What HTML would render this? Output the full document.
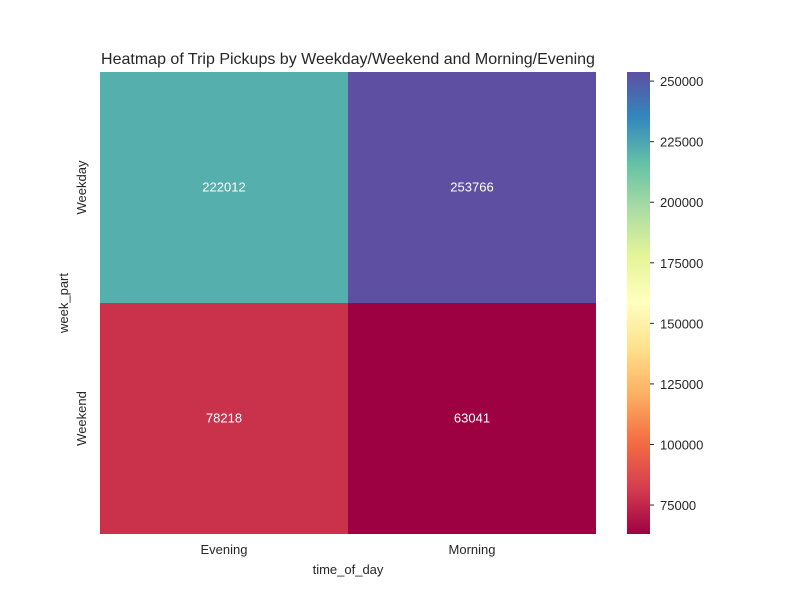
<!DOCTYPE html>
<html><head><meta charset="utf-8"><style>
body{margin:0;background:#fff;font-family:"Liberation Sans",sans-serif;}
svg text{font-family:"Liberation Sans",sans-serif;fill:#262626;}
</style></head><body>
<svg id="c" width="800" height="600" xmlns="http://www.w3.org/2000/svg">
<rect width="800" height="600" fill="#fff"/>
<text x="348" y="64" font-size="16" text-anchor="middle">Heatmap of Trip Pickups by Weekday/Weekend and Morning/Evening</text>
<text x="348" y="574" font-size="13" text-anchor="middle">time_of_day</text>
<text x="0" y="0" font-size="13" text-anchor="middle" transform="translate(68,303) rotate(-90)">week_part</text>
<g id="cells"></g>
<g id="cbar"></g>
</svg>
<script>
const rows = ["Weekday", "Weekend"];
const cols = ["Evening", "Morning"];
const values = [[222012, 253766], [78218, 63041]];
const cbTicks = [75000, 100000, 125000, 150000, 175000, 200000, 225000, 250000];

const stops = ["#9e0142","#d53e4f","#f46d43","#fdae61","#fee08b","#ffffbf","#e6f598","#abdda4","#66c2a5","#3288bd","#5e4fa2"];
const flat = values.flat();
const vmin = Math.min(...flat), vmax = Math.max(...flat);
function hex(h){return [1,3,5].map(i=>parseInt(h.substr(i,2),16));}
function cmap(t){t=Math.max(0,Math.min(1,t));const p=t*(stops.length-1);const i=Math.min(Math.floor(p),stops.length-2);const f=p-i;const a=hex(stops[i]),b=hex(stops[i+1]);return "rgb("+a.map((v,k)=>Math.round(v+(b[k]-v)*f)).join(",")+")";}
const X0=100,X1=596,Y0=72,Y1=534;
const cw=(X1-X0)/cols.length, ch=(Y1-Y0)/rows.length;
const xS=j=>X0+j*cw, yS=i=>Y0+i*ch;
const NS="http://www.w3.org/2000/svg";
const svg=document.getElementById("c");
const g=document.getElementById("cells");
function mk(tag,attrs,parent){const e=document.createElementNS(NS,tag);for(const k in attrs)e.setAttribute(k,attrs[k]);parent.appendChild(e);return e;}
rows.forEach((r,i)=>{cols.forEach((c,j)=>{
  const v=values[i][j];
  const rc=mk("rect",{x:xS(j),y:yS(i),width:cw,height:ch,fill:cmap((v-vmin)/(vmax-vmin))},g);
  
  
  const t=mk("text",{x:xS(j)+cw/2,y:yS(i)+ch/2+4,"font-size":13,"text-anchor":"middle",style:"fill:#fff"},g);
  t.textContent=v;
  
  
});});
cols.forEach((c,j)=>{
  const t=mk("text",{x:xS(j)+cw/2,y:554,"font-size":13,"text-anchor":"middle"},svg);
  t.textContent=c;
  
  
});
rows.forEach((r,i)=>{
  const cy=yS(i)+ch/2;
  const t=mk("text",{x:0,y:0,"font-size":13,"text-anchor":"middle",transform:"translate(86,"+cy+") rotate(-90)"},svg);
  t.textContent=r;
  
  
});
// colorbar
const cb=document.getElementById("cbar");
const CX=627,CW=23;
const defs=mk("defs",{},svg);
const lg=mk("linearGradient",{id:"gr",x1:0,y1:1,x2:0,y2:0},defs);
stops.forEach((s,k)=>mk("stop",{offset:k/(stops.length-1),"stop-color":s},lg));
const cbr=mk("rect",{x:CX,y:Y0,width:CW,height:Y1-Y0,fill:"url(#gr)"},cb);


const cyS=v=>Y1-(v-vmin)/(vmax-vmin)*(Y1-Y0);
cbTicks.forEach(v=>{
  const y=cyS(v);
  mk("line",{x1:CX+CW,x2:CX+CW+4,y1:y,y2:y,stroke:"#262626","stroke-width":1},cb);
  const t=mk("text",{x:CX+CW+10,y:y+5,"font-size":13},cb);
  t.textContent=v;
  
  
});
</script>
</body></html>
